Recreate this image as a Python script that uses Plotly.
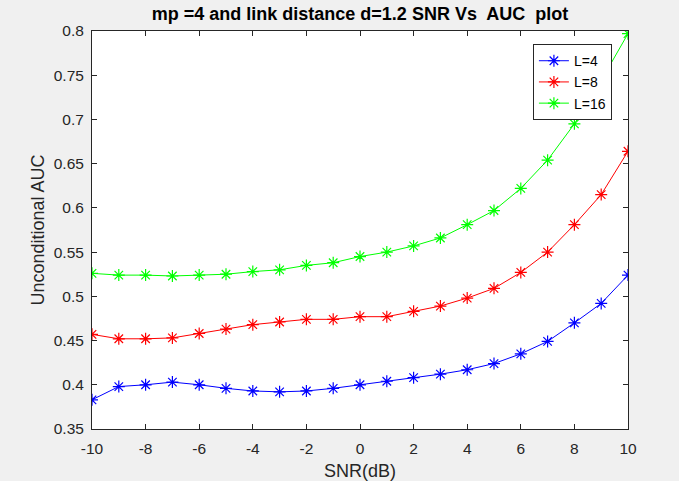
import plotly.graph_objects as go

snr = list(range(-10, 11))
auc_L4 = [0.383, 0.398, 0.400, 0.403, 0.400, 0.396, 0.393, 0.392, 0.393, 0.396, 0.400,
          0.404, 0.408, 0.412, 0.417, 0.424, 0.435, 0.449, 0.470, 0.492, 0.524]
auc_L8 = [0.457, 0.452, 0.452, 0.453, 0.458, 0.463, 0.468, 0.471, 0.474, 0.474, 0.477,
          0.477, 0.483, 0.489, 0.498, 0.509, 0.527, 0.550, 0.581, 0.615, 0.664]
auc_L16 = [0.526, 0.524, 0.524, 0.523, 0.524, 0.525, 0.528, 0.530, 0.535, 0.538, 0.545,
           0.550, 0.557, 0.566, 0.581, 0.597, 0.622, 0.654, 0.695, 0.744, 0.797]
series = [("L=4", auc_L4, "#0000ff"), ("L=8", auc_L8, "#ff0000"), ("L=16", auc_L16, "#00ff00")]
xticks = list(range(-10, 11, 2))
yticks = [0.35, 0.4, 0.45, 0.5, 0.55, 0.6, 0.65, 0.7, 0.75, 0.8]
ytick_text = ["0.35", "0.4", "0.45", "0.5", "0.55", "0.6", "0.65", "0.7", "0.75", "0.8"]

fig = go.Figure()
for name, vals, col in series:
    fig.add_trace(go.Scatter(
        x=snr, y=vals, name=name, mode="lines+markers",
        line=dict(color=col, width=1),
        marker=dict(symbol="asterisk-open", size=10, color=col, line=dict(color=col, width=1.2)),
    ))

axis_col = "#262626"
fig.update_layout(
    width=679, height=481,
    paper_bgcolor="#f0f0f0", plot_bgcolor="white",
    margin=dict(l=92, r=51, t=31, b=52),
    font=dict(family="Liberation Sans, Arial, sans-serif", size=15.5, color=axis_col),
    title=dict(text="<b>mp =4 and link distance d=1.2 SNR Vs  AUC  plot</b>",
               x=0.5, xref="paper", xanchor="center", y=0.984, yanchor="top",
               font=dict(size=18, color="#000000")),
    showlegend=True,
    legend=dict(x=0.970, y=0.967, xanchor="right", yanchor="top",
                bgcolor="white", bordercolor=axis_col, borderwidth=1,
                font=dict(size=14, color="#000000"),
                tracegroupgap=0, itemwidth=30),
)
fig.update_xaxes(
    range=[-10, 10], tickvals=xticks, ticktext=[str(v) for v in xticks],
    ticks="inside", ticklen=5, tickcolor=axis_col, showline=True, linecolor=axis_col,
    linewidth=1, mirror="ticks", showgrid=False, zeroline=False, automargin=False,
    ticklabelstandoff=5,
    title=dict(text="SNR(dB)", font=dict(size=18), standoff=8),
)
fig.update_yaxes(
    range=[0.35, 0.8], tickvals=yticks, ticktext=ytick_text,
    ticks="inside", ticklen=5, tickcolor=axis_col, showline=True, linecolor=axis_col,
    linewidth=1, mirror="ticks", showgrid=False, zeroline=False, automargin=False,
    ticklabelstandoff=4,
    title=dict(text="Unconditional AUC", font=dict(size=18), standoff=4),
)
fig.write_html("out.html")
